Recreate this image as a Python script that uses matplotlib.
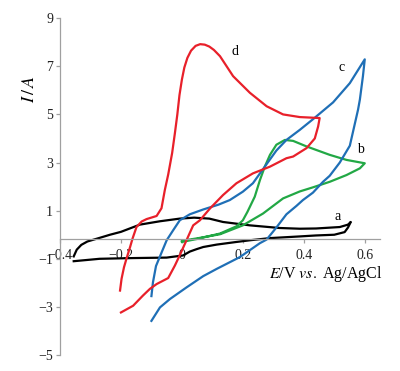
import matplotlib
matplotlib.use("Agg")
import matplotlib.pyplot as plt

plt.rcParams['font.family'] = ['Liberation Serif', 'DejaVu Serif']

# Curve a (black)
a_x = [-0.355, -0.345, -0.33, -0.31, -0.27, -0.236, -0.2, -0.138, -0.072, -0.007, 0.04, 0.09, 0.135,
       0.223, 0.321, 0.387, 0.44, 0.518, 0.545, 0.554, 0.545, 0.534, 0.5, 0.44, 0.387, 0.289, 0.223,
       0.179, 0.114, 0.07, 0.048, 0.026, 0.004, -0.05, -0.16, -0.27, -0.355]
a_y = [-0.9, -0.62, -0.42, -0.28, -0.13, 0.0, 0.12, 0.42, 0.56, 0.67, 0.71, 0.67, 0.53,
       0.39, 0.28, 0.25, 0.26, 0.32, 0.42, 0.53, 0.3, 0.11, 0.0, -0.03, -0.07, -0.14, -0.23,
       -0.3, -0.41, -0.51, -0.6, -0.7, -0.86, -0.95, -0.97, -1.0, -1.1]

# Curve b (green)
b_x = [0.0, 0.048, 0.125, 0.179, 0.2, 0.215, 0.239, 0.256, 0.272, 0.289, 0.31, 0.338, 0.365,
       0.409, 0.485, 0.54, 0.6, 0.584, 0.54, 0.485, 0.43, 0.387, 0.332, 0.266, 0.2, 0.125, 0.05, 0.0]
b_y = [-0.3, -0.18, 0.05, 0.35, 0.6, 0.95, 1.58, 2.27, 2.83, 3.32, 3.74, 3.94, 3.9,
       3.67, 3.32, 3.11, 2.97, 2.76, 2.48, 2.2, 1.97, 1.8, 1.51, 0.88, 0.39, 0.02, -0.15, -0.25]

# Curve c (blue)
c_x = [-0.1, -0.095, -0.085, -0.072, -0.05, -0.028, -0.007, 0.026, 0.07, 0.12, 0.157, 0.2, 0.233,
       0.272, 0.31, 0.343, 0.387, 0.43, 0.496, 0.551, 0.6, 0.594, 0.584, 0.578, 0.56, 0.551, 0.518,
       0.485, 0.463, 0.43, 0.397, 0.376, 0.343, 0.31, 0.278, 0.256, 0.19, 0.114, 0.07, 0.015,
       -0.039, -0.072, -0.1]
c_y = [-2.55, -1.98, -1.3, -0.9, -0.23, 0.2, 0.6, 0.85, 1.05, 1.25, 1.44, 1.79, 2.14,
       2.83, 3.5, 3.94, 4.36, 4.8, 5.5, 6.3, 7.29, 6.59, 5.62, 5.2, 4.2, 3.7, 3.0,
       2.45, 2.2, 1.75, 1.44, 1.2, 0.85, 0.3, -0.2, -0.35, -0.93, -1.42, -1.72, -2.19,
       -2.67, -3.02, -3.58]

# Curve d (red)
d_x = [-0.203, -0.198, -0.19, -0.182, -0.17, -0.162, -0.149, -0.132, -0.116, -0.083, -0.067, -0.056,
       -0.045, -0.032, -0.023, -0.015, -0.008, 0.0, 0.008, 0.018, 0.03, 0.045, 0.06, 0.075, 0.09,
       0.105, 0.125, 0.168, 0.223, 0.278, 0.332, 0.387, 0.452, 0.447, 0.436, 0.409, 0.365, 0.343,
       0.289, 0.233, 0.179, 0.135, 0.092, 0.059, 0.037, 0.026, -0.007, -0.023, -0.045, -0.083,
       -0.105, -0.128, -0.16, -0.2]
d_y = [-2.32, -1.83, -1.35, -1.0, -0.51, -0.16, 0.32, 0.55, 0.65, 0.78, 1.1, 1.86,
       2.5, 3.4, 4.22, 5.0, 5.8, 6.45, 6.95, 7.35, 7.65, 7.85, 7.92, 7.9, 7.82,
       7.68, 7.42, 6.59, 5.9, 5.34, 5.0, 4.89, 4.85, 4.5, 4.0, 3.6, 3.25, 3.18,
       2.83, 2.55, 2.14, 1.65, 1.09, 0.6, 0.39, 0.08, -0.85, -1.28, -1.8, -2.05,
       -2.25, -2.53, -2.95, -3.23]

labels = ['a', 'b', 'c', 'd']
label_x = [0.51, 0.587, 0.524, 0.174]
label_y = [0.74, 3.53, 6.94, 7.63]

x_ticks = [-0.4, -0.2, 0, 0.2, 0.4, 0.6]
x_tick_labels = ['\u22120.4', '\u22120.2', '0', '0.2', '0.4', '0.6']
y_ticks = [-5, -3, -1, 1, 3, 5, 7, 9]
y_tick_labels = ['\u22125', '\u22123', '\u22121', '1', '3', '5', '7', '9']

fig = plt.figure(figsize=(4.0, 3.71), dpi=100)
ax = fig.add_axes([0.15, 0.043, 0.80, 0.908])

lw = 1.6
ax.plot(a_x, a_y, color='#000000', lw=lw, solid_joinstyle='round')
ax.plot(b_x, b_y, color='#22a845', lw=lw, solid_joinstyle='round')
ax.plot(c_x, c_y, color='#1f6fb6', lw=lw, solid_joinstyle='round')
ax.plot(d_x, d_y, color='#e8202a', lw=lw, solid_joinstyle='round')

for t, lx, ly in zip(labels, label_x, label_y):
    ax.text(lx, ly, t, fontsize=10, ha='center', va='center')

ax.set_xlim(-0.4, 0.65)
ax.set_ylim(-5, 9)
ax.spines['top'].set_visible(False)
ax.spines['right'].set_visible(False)
ax.spines['bottom'].set_position(('data', -0.18))
for s in ['left', 'bottom']:
    ax.spines[s].set_color('#a0a0a0')
    ax.spines[s].set_linewidth(0.9)

ax.set_xticks(x_ticks)
ax.set_xticklabels(x_tick_labels)
ax.set_yticks(y_ticks)
ax.set_yticklabels(y_tick_labels)
ax.tick_params(axis='both', colors='#a0a0a0', length=3, width=0.9, labelsize=10,
               labelcolor='#222222')
ax.tick_params(axis='x', pad=4)
ax.tick_params(axis='y', pad=2)

ax.text(-0.094, 0.79, r'$I\,/\,A$', fontsize=13, rotation=90, ha='center', va='center',
        transform=ax.transAxes, clip_on=False, math_fontfamily='stix')
ax.text(0.66, -1.63, r'$E$/V $vs.$ Ag/AgCl', fontsize=11.5, ha='right', va='center',
        math_fontfamily='stix')

fig.savefig('out.png', dpi=100)
